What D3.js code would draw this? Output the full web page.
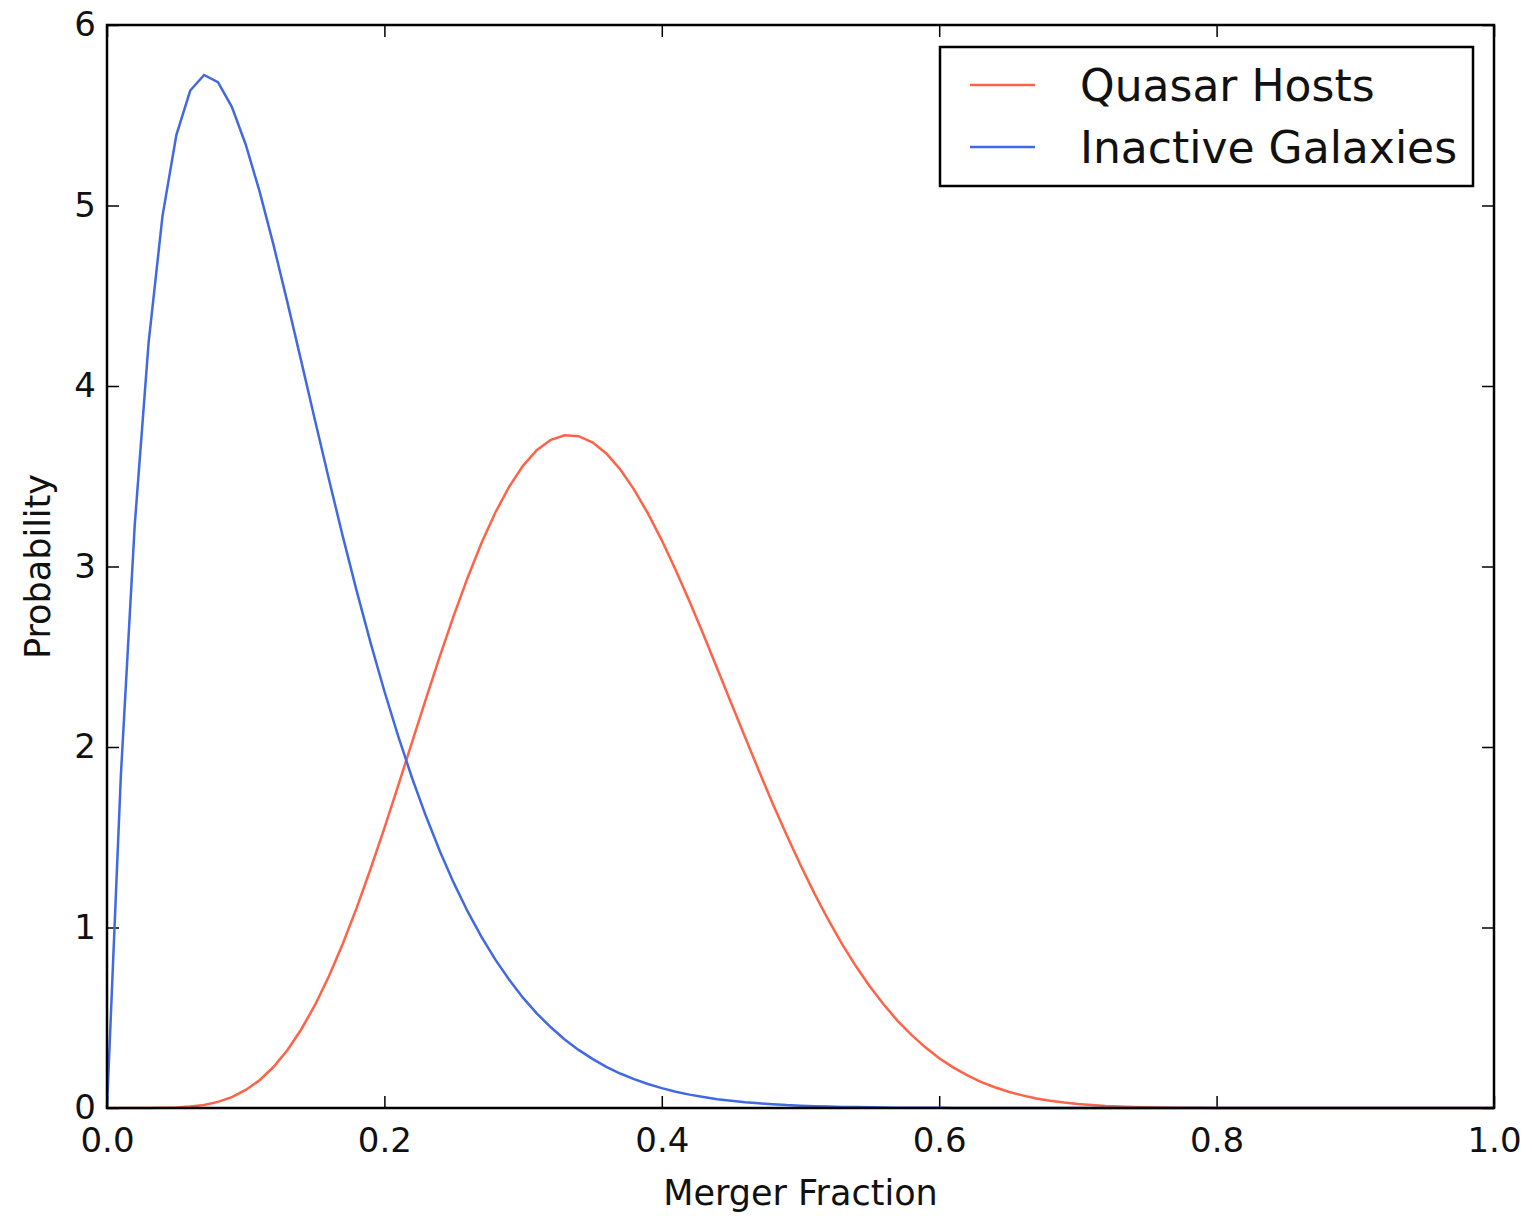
<!DOCTYPE html>
<html>
<head>
<meta charset="utf-8">
<script src="https://cdn.jsdelivr.net/npm/d3@7"></script>
<style>
  html, body { margin: 0; padding: 0; background: #fff; }
  text { font-family: "DejaVu Sans", sans-serif; fill: #111; }
</style>
</head>
<body>
<svg id="chart"></svg>
<script>
const width = 1532;
const height = 1216;
const margin = {left: 107, right: 38, top: 25, bottom: 108};

// merger fraction grid (x) and the two probability curves
const mergerFraction = [
  0.00,0.01,0.02,0.03,0.04,0.05,0.06,0.07,0.08,0.09,
  0.10,0.11,0.12,0.13,0.14,0.15,0.16,0.17,0.18,0.19,
  0.20,0.21,0.22,0.23,0.24,0.25,0.26,0.27,0.28,0.29,
  0.30,0.31,0.32,0.33,0.34,0.35,0.36,0.37,0.38,0.39,
  0.40,0.41,0.42,0.43,0.44,0.45,0.46,0.47,0.48,0.49,
  0.50,0.51,0.52,0.53,0.54,0.55,0.56,0.57,0.58,0.59,
  0.60,0.61,0.62,0.63,0.64,0.65,0.66,0.67,0.68,0.69,
  0.70,0.71,0.72,0.73,0.74,0.75,0.76,0.77,0.78,0.79,
  0.80,0.81,0.82,0.83,0.84,0.85,0.86,0.87,0.88,0.89,
  0.90,0.91,0.92,0.93,0.94,0.95,0.96,0.97,0.98,0.99,
  1.00
];

const quasarHosts = [
  0,0.000,0.000,0.000,0.001,0.003,0.008,0.017,0.034,0.060,
  0.100,0.154,0.227,0.320,0.435,0.571,0.730,0.910,1.109,1.324,
  1.551,1.788,2.028,2.268,2.503,2.728,2.938,3.130,3.299,3.443,
  3.559,3.646,3.702,3.727,3.722,3.688,3.626,3.538,3.426,3.294,
  3.145,2.981,2.806,2.623,2.434,2.244,2.055,1.868,1.686,1.512,
  1.346,1.189,1.043,0.908,0.785,0.673,0.573,0.483,0.405,0.336,
  0.276,0.225,0.182,0.145,0.115,0.090,0.070,0.053,0.040,0.030,
  0.022,0.016,0.011,0.008,0.006,0.004,0.003,0.002,0.001,0.001,
  0,0,0,0,0,0,0,0,0,0,
  0,0,0,0,0,0,0,0,0,0,
  0
];

const inactiveGalaxies = [
  0,1.843,3.230,4.240,4.941,5.390,5.637,5.723,5.683,5.547,
  5.338,5.078,4.783,4.466,4.139,3.809,3.483,3.167,2.865,2.578,
  2.309,2.059,1.827,1.616,1.422,1.247,1.089,0.948,0.822,0.710,
  0.610,0.523,0.447,0.380,0.322,0.272,0.228,0.191,0.160,0.133,
  0.110,0.090,0.074,0.061,0.049,0.040,0.032,0.026,0.021,0.016,
  0.013,0.010,0.008,0.006,0.005,0.004,0.003,0.002,0.002,0.001,
  0.001,0,0,0,0,0,0,0,0,0,
  0,0,0,0,0,0,0,0,0,0,
  0,0,0,0,0,0,0,0,0,0,
  0,0,0,0,0,0,0,0,0,0,
  0
];

const xTicks = [0, 0.2, 0.4, 0.6, 0.8, 1.0];
const yTicks = [0, 1, 2, 3, 4, 5, 6];

const seriesNames = ['Quasar Hosts', 'Inactive Galaxies'];
const seriesColors = ['tomato', 'royalblue'];

const svg = d3.select('#chart')
  .attr('width', width)
  .attr('height', height);

const x = d3.scaleLinear().domain([0, 1]).range([margin.left, width - margin.right]);
const y = d3.scaleLinear().domain([0, 6]).range([height - margin.bottom, margin.top]);

// axes: classic matplotlib look, ticks pointing inward on all four sides
const tickLen = 12;

const xAxis = svg.append('g')
  .attr('transform', `translate(0, ${y(0)})`)
  .call(d3.axisBottom(x).tickValues(xTicks).tickFormat(d3.format('.1f'))
    .tickSizeInner(-tickLen).tickSizeOuter(0).tickPadding(20));

const yAxis = svg.append('g')
  .attr('transform', `translate(${x(0)}, 0)`)
  .call(d3.axisLeft(y).tickValues(yTicks).tickFormat(d3.format('d'))
    .tickSizeInner(-tickLen).tickSizeOuter(0).tickPadding(11));

const topAxis = svg.append('g')
  .attr('transform', `translate(0, ${y(6)})`)
  .call(d3.axisTop(x).tickValues(xTicks).tickFormat('')
    .tickSizeInner(-tickLen).tickSizeOuter(0));

const rightAxis = svg.append('g')
  .attr('transform', `translate(${x(1)}, 0)`)
  .call(d3.axisRight(y).tickValues(yTicks).tickFormat('')
    .tickSizeInner(-tickLen).tickSizeOuter(0));

[xAxis, yAxis, topAxis, rightAxis].forEach(a => {
  a.select('.domain').remove();
  a.selectAll('.tick line').attr('stroke', '#000').attr('stroke-width', 1.5);
  a.selectAll('.tick text').style('font-size', '34px').attr('fill', '#111');
});

// curves
const line = d3.line()
  .x((d, i) => x(mergerFraction[i]))
  .y(d => y(d));

const plot = svg.append('g');

plot.append('path')
  .datum(quasarHosts)
  .attr('d', line)
  .attr('fill', 'none')
  .attr('stroke', seriesColors[0])
  .attr('stroke-width', 2.5);

plot.append('path')
  .datum(inactiveGalaxies)
  .attr('d', line)
  .attr('fill', 'none')
  .attr('stroke', seriesColors[1])
  .attr('stroke-width', 2.5);

// frame
svg.append('rect')
  .attr('x', x(0))
  .attr('y', y(6))
  .attr('width', x(1) - x(0))
  .attr('height', y(0) - y(6))
  .attr('fill', 'none')
  .attr('stroke', '#000')
  .attr('stroke-width', 2.5);

// axis labels
svg.append('text')
  .attr('x', (x(0) + x(1)) / 2)
  .attr('y', 1205)
  .attr('text-anchor', 'middle')
  .style('font-size', '35px')
  .text('Merger Fraction');

svg.append('text')
  .attr('transform', `translate(50, ${(y(0) + y(6)) / 2}) rotate(-90)`)
  .attr('text-anchor', 'middle')
  .style('font-size', '35px')
  .text('Probability');

// legend
const legend = svg.append('g').attr('transform', 'translate(940, 47)');

legend.append('rect')
  .attr('width', 533)
  .attr('height', 139)
  .attr('fill', '#fff')
  .attr('stroke', '#000')
  .attr('stroke-width', 2.5);

seriesNames.forEach((name, i) => {
  const row = legend.append('g').attr('transform', `translate(0, ${38 + i * 62})`);
  row.append('line')
    .attr('x1', 30).attr('x2', 95)
    .attr('y1', 0).attr('y2', 0)
    .attr('stroke', seriesColors[i])
    .attr('stroke-width', 2.5);
  row.append('text')
    .attr('x', 140)
    .attr('y', 0)
    .attr('dy', '0.36em')
    .style('font-size', '44px')
    .text(name);
});
</script>
</body>
</html>
